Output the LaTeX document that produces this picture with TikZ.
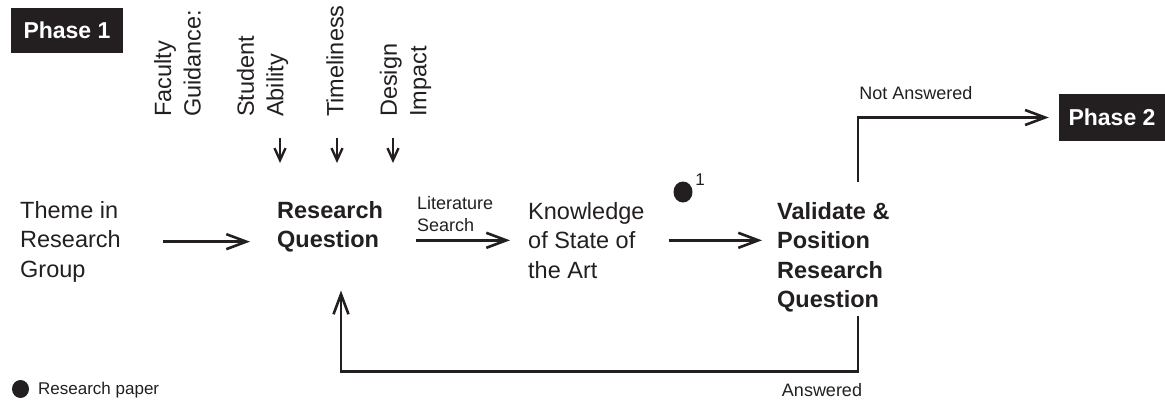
\documentclass[tikz,border=0pt]{standalone}
\usepackage{fontspec}
\setmainfont{Liberation Sans}
\usepackage{xcolor}
\usetikzlibrary{positioning,arrows.meta,shapes.geometric,calc}
\definecolor{ink}{RGB}{35,31,32}
\tikzset{
  txt/.style    = {font=\fontsize{23.5}{29.5}\selectfont, align=left, inner sep=0pt, anchor=north west, text=ink},
  txtb/.style   = {txt, font=\fontsize{23.5}{29.5}\selectfont\bfseries},
  small/.style  = {font=\fontsize{18}{22}\selectfont, align=left, inner sep=0pt, text=ink},
  rot/.style    = {txt, anchor=west, rotate=90},
  phase/.style  = {fill=ink, text=white, font=\fontsize{23}{27}\selectfont\bfseries, inner sep=0pt},
  dot/.style    = {ellipse, fill=ink, inner sep=0pt, minimum width=19pt, minimum height=21pt},
  flow/.style   = {-{Straight Barb[length=20pt,width=15pt]}, line width=2.6pt, draw=ink},
  flowsm/.style = {-{Straight Barb[length=12pt,width=11pt]}, line width=2.4pt, draw=ink},
}
\begin{document}
\begin{tikzpicture}[x=1pt, y=-1pt]
  \useasboundingbox (0,0) rectangle (1165,400);
  % phases
  \node[phase, minimum width=112pt, minimum height=45pt] (p1) at (67,30.5) {Phase 1};
  \node[phase, minimum width=106pt, minimum height=47pt] (p2) at (1112,117.5) {Phase 2};
  % criteria
  \node[rot] (fg) at (177.5,117) {Faculty\\Guidance:};
  \node[rot] (sa) at (262.5,117) {Student\\Ability};
  \node[rot] (tl) at (335,117) {Timeliness};
  \node[rot] (di) at (405.5,117) {Design\\Impact};
  % main row
  \node[txt]  (theme) at (20,201)  {Theme in\\Research\\Group};
  \node[txtb] (rq)    at (277,201) {Research\\Question};
  \node[txt]  (know)  at (528,202) {Knowledge\\of State of\\the Art};
  \node[txtb] (val)   at (777,202) {Validate \&\\Position\\Research\\Question};
  \node[small, anchor=north west] (lit) at (417,196) {Literature\\Search};
  \node[dot] (paper) at (683,192) {};
  \node[small, font=\fontsize{17}{20}\selectfont] (sup) at (700,180) {1};
  \node[small] (na) at (916,93) {Not Answered};
  \node[small] (ans) at (822,390) {Answered};
  % legend
  \node[dot, minimum width=17pt, minimum height=18pt] (key) at (20.5,389) {};
  \node[small, anchor=west, font=\fontsize{17}{20}\selectfont] (keytxt) at (38,390) {Research paper};
  % arrows
  \draw[flowsm] ([xshift=17.5pt,yshift=-21pt]sa.west) -- ([xshift=17.5pt,yshift=38pt]sa.west |- rq.north);
  \draw[flowsm] ([xshift=2pt,yshift=-21pt]tl.west) -- ([xshift=2pt,yshift=38pt]tl.west |- rq.north);
  \draw[flowsm] ([xshift=-12.5pt,yshift=-21pt]di.west) -- ([xshift=-12.5pt,yshift=38pt]di.west |- rq.north);
  \draw[flow] ([xshift=42pt]theme.east) -- ([xshift=-27pt]theme.east -| rq.west);
  \draw[flow] ([xshift=33pt]rq.east |- know.west) -- ([xshift=-18pt]know.west);
  \draw[flow] ([xshift=24pt]know.east) -- ([xshift=-15pt]know.east -| val.west);
  \draw[flow] ([xshift=81pt,yshift=20pt]val.north west) |- ([xshift=-10pt]p2.west);
  \draw[flow] ([xshift=81pt,yshift=-3pt]val.south west) -- ++(0,56) -| ([xshift=64pt,yshift=-38pt]rq.south west);
\end{tikzpicture}
\end{document}
